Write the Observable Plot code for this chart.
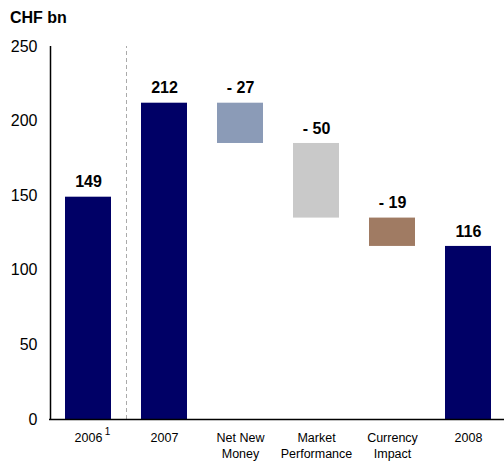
<!DOCTYPE html>
<html><head><meta charset="utf-8">
<script src="https://cdn.jsdelivr.net/npm/d3@7"></script>
<script src="https://cdn.jsdelivr.net/npm/@observablehq/plot@0.6"></script>
<style>
body{margin:0;background:#fff;font-family:"Liberation Sans",Arial,sans-serif;overflow:hidden;}
#title{height:30px;line-height:36px;padding-left:10px;font-weight:bold;font-size:16px;color:#000;}
#chart svg{display:block;}
</style>
</head><body>
<div id="title">CHF bn</div>
<div id="chart"></div>
<script>
const categories = ["2006", "2007", "Net New\nMoney", "Market\nPerformance", "Currency\nImpact", "2008"];
const starts = [0, 0, 212, 185, 135, 0];
const ends = [149, 212, 185, 135, 116, 116];
const valueLabels = ["149", "212", "- 27", "- 50", "- 19", "116"];
const colors = ["#000066", "#000066", "#8b9bb7", "#c9c9c9", "#a07b63", "#000066"];
const yTicks = [0, 50, 100, 150, 200, 250];
const footnotes = [{cat: "2006", mark: "1"}];

const data = categories.map((c, i) => ({cat: c, y1: starts[i], y2: ends[i], label: valueLabels[i], color: colors[i], top: Math.max(starts[i], ends[i])}));
const first = categories[0];

const chart = Plot.plot({
  width: 504,
  height: 431,
  marginTop: 16,
  marginBottom: 42,
  marginLeft: 49,
  marginRight: 0,
  style: {fontFamily: "'Liberation Sans', Arial, sans-serif", color: "#000", background: "#fff", overflow: "visible"},
  x: {domain: categories, range: [49, 508], paddingInner: 0.39, paddingOuter: 0.2, axis: null},
  y: {domain: [0, 250], ticks: yTicks, axis: null},
  marks: [
    Plot.ruleX([categories[1]], {x: d => d, y1: 0, y2: 250, dx: -38, stroke: "#aaa", strokeDasharray: "4,3", strokeWidth: 1}),
    Plot.barY(data, {x: "cat", y1: "y1", y2: "y2", fill: "color"}),
    Plot.text(data, {x: "cat", y: "top", text: "label", dy: -15, fontWeight: "bold", fontSize: 16, fill: "#000"}),
    Plot.text(data, {x: "cat", y: 0, text: "cat", dy: 11, lineAnchor: "top", fontSize: 12.5, lineHeight: 1.3, fill: "#000"}),
    Plot.text(footnotes, {x: "cat", y: 0, text: "mark", dy: 8, dx: 19, lineAnchor: "top", fontSize: 10, fill: "#000"}),
    Plot.text(yTicks, {x: () => first, y: d => d, text: d => String(d), textAnchor: "end", dx: -51, fontSize: 16, fill: "#000"}),
    Plot.ruleY([0], {stroke: "#000", strokeWidth: 1.5}),
    Plot.ruleX([first], {x: d => d, y1: 0, y2: 250, dx: -38, stroke: "#000", strokeWidth: 1.5})
  ]
});
document.getElementById("chart").appendChild(chart);
</script>
</body></html>
